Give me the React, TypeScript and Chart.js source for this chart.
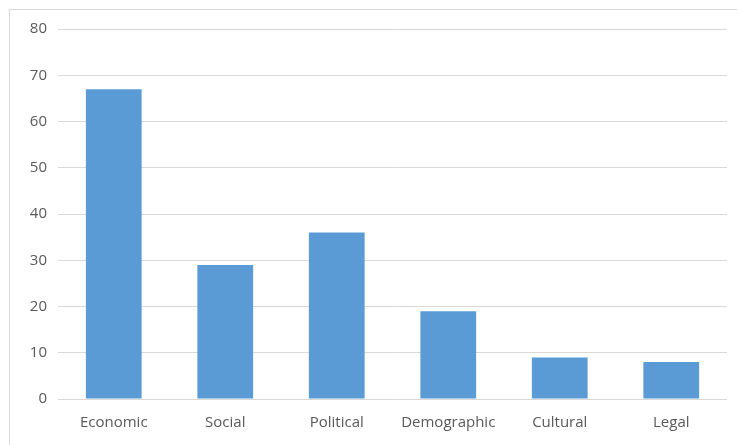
import React, { useEffect, useRef } from "react";
import { Chart, registerables } from "chart.js";

Chart.register(...registerables);

const categories = ["Economic", "Social", "Political", "Demographic", "Cultural", "Legal"];
const values = [67, 29, 36, 19, 9, 8];
const yTicks = [0, 10, 20, 30, 40, 50, 60, 70, 80];

export default function App() {
  const ref = useRef<HTMLCanvasElement>(null);
  useEffect(() => {
    if (!ref.current) return;
    const font = { family: "'Open Sans', sans-serif", size: 15 };
    const chart = new Chart(ref.current, {
      type: "bar",
      data: {
        labels: categories,
        datasets: [
          {
            data: values,
            backgroundColor: "#5b9bd5",
            borderWidth: 0,
            categoryPercentage: 1,
            barPercentage: 0.5,
          },
        ],
      },
      options: {
        animation: false,
        responsive: false,
        layout: { padding: { left: 0, right: 10, top: 29, bottom: 0 } },
        plugins: { legend: { display: false }, tooltip: { enabled: false } },
        scales: {
          x: {
            grid: { display: false, drawTicks: false },
            border: { display: false },
            ticks: { color: "#595959", font, padding: 15, maxRotation: 0 },
            afterFit: (s: any) => {
              s.height = 46;
            },
          },
          y: {
            min: 0,
            max: 80,
            afterBuildTicks: (s: any) => {
              s.ticks = yTicks.map((v) => ({ value: v }));
            },
            grid: { color: "#d9d9d9", lineWidth: 1, drawTicks: false },
            border: { display: false },
            ticks: { color: "#595959", font, padding: 11 },
            afterFit: (s: any) => {
              s.width = 58;
            },
          },
        },
      },
    });
    return () => chart.destroy();
  }, []);
  return (
    <div style={{ position: "absolute", left: 0, top: 0, width: 737, height: 445, background: "#fff", overflow: "hidden" }}>
      <div
        style={{
          position: "absolute",
          left: 9,
          top: 9,
          width: 760,
          height: 460,
          border: "1px solid #d9d9d9",
          boxSizing: "border-box",
        }}
      />
      <canvas ref={ref} width={737} height={445} style={{ position: "absolute", left: 0, top: 0 }} />
    </div>
  );
}
